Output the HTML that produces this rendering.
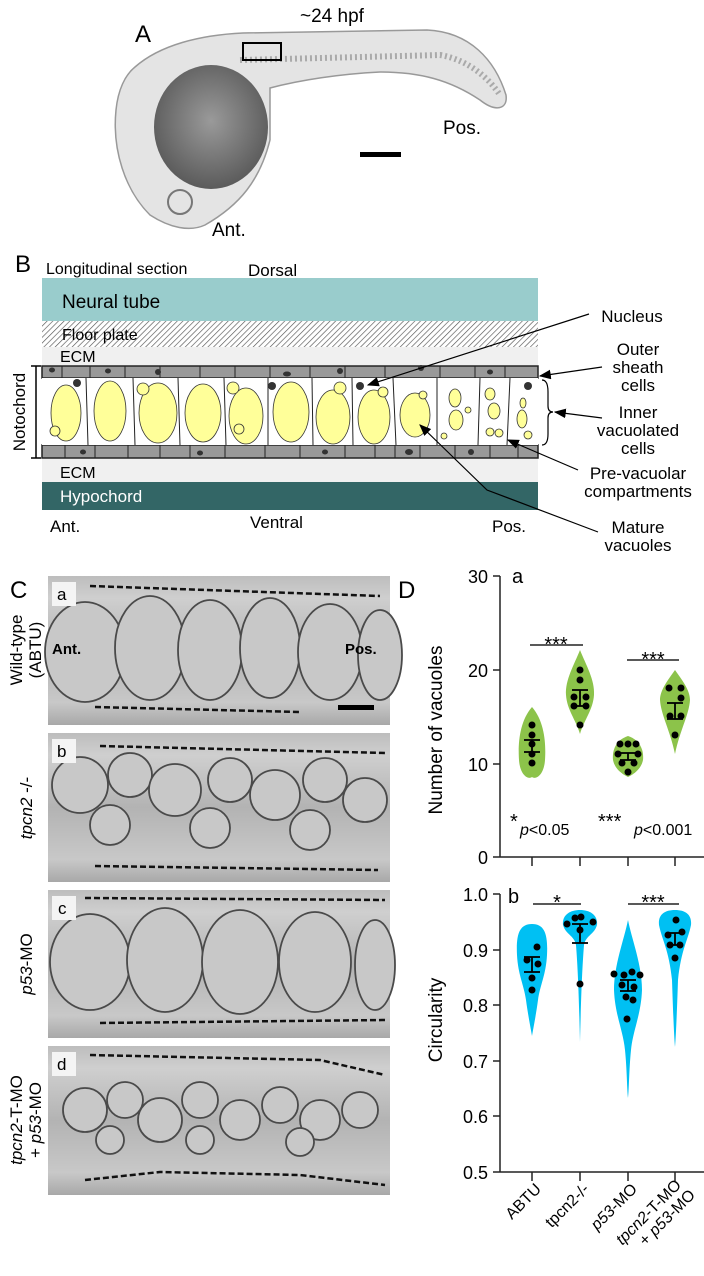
<!DOCTYPE html>
<html><head><meta charset="utf-8"><style>
html,body{margin:0;padding:0;background:#fff}
svg{display:block;font-family:"Liberation Sans",sans-serif}
</style></head><body>
<svg width="704" height="1276" viewBox="0 0 704 1276" xmlns="http://www.w3.org/2000/svg">
<defs>
<pattern id="hatch" width="4" height="4" patternUnits="userSpaceOnUse" patternTransform="rotate(45)">
<rect width="4" height="4" fill="#fff"/><line x1="0" y1="0" x2="0" y2="4" stroke="#555" stroke-width="1.3"/></pattern>
<radialGradient id="yolk" cx="0.5" cy="0.45" r="0.6"><stop offset="0" stop-color="#9a9a9a"/><stop offset="1" stop-color="#555"/></radialGradient>
<linearGradient id="photo" x1="0" y1="0" x2="0" y2="1"><stop offset="0" stop-color="#bdbdbd"/><stop offset="0.15" stop-color="#cfcfcf"/><stop offset="0.5" stop-color="#b3b3b3"/><stop offset="0.85" stop-color="#c8c8c8"/><stop offset="1" stop-color="#a8a8a8"/></linearGradient>
<marker id="ar" markerWidth="10" markerHeight="8" refX="9" refY="4" orient="auto"><path d="M0,0 L10,4 L0,8 z" fill="#000"/></marker>
</defs>

<!-- Panel A -->
<text x="135" y="42" font-size="24">A</text>
<text x="300" y="22" font-size="19">~24 hpf</text>
<path d="M135,67 C160,45 200,35 243,33 L427,30 C470,32 495,60 506,95 C508,110 495,112 480,100 C450,80 420,72 380,72 C340,74 300,80 270,88 L270,140 C260,180 240,205 205,225 C190,232 170,228 150,215 C125,190 112,150 116,110 C118,90 125,75 135,67 Z" fill="#e4e4e4" stroke="#999" stroke-width="1.5"/>
<path d="M240,60 L440,55 C470,60 490,80 500,95" fill="none" stroke="#aaa" stroke-width="6" stroke-dasharray="2,3"/>
<ellipse cx="211" cy="127" rx="57" ry="62" fill="url(#yolk)"/>
<circle cx="180" cy="202" r="12" fill="none" stroke="#777" stroke-width="2"/>
<rect x="243" y="43" width="38" height="17" fill="none" stroke="#000" stroke-width="2"/>
<rect x="360" y="152" width="41" height="5" fill="#000"/>
<text x="212" y="236" font-size="19">Ant.</text>
<text x="443" y="134" font-size="19">Pos.</text>

<!-- Panel B -->
<text x="15" y="272" font-size="24">B</text>
<text x="46" y="274" font-size="16">Longitudinal section</text>
<text x="248" y="276" font-size="17">Dorsal</text>
<rect x="42" y="278" width="496" height="43" fill="#99cccc"/>
<text x="62" y="308" font-size="19">Neural tube</text>
<rect x="42" y="321" width="496" height="26" fill="url(#hatch)"/>
<text x="62" y="340" font-size="16">Floor plate</text>
<rect x="42" y="347" width="496" height="18" fill="#f0f0f0"/>
<text x="60" y="362" font-size="16">ECM</text>
<rect x="42" y="458" width="496" height="24" fill="#f0f0f0"/>
<text x="60" y="478" font-size="16">ECM</text>
<rect x="42" y="482" width="496" height="28" fill="#336666"/>
<text x="60" y="502" font-size="17" fill="#fff">Hypochord</text>
<text x="50" y="532" font-size="17">Ant.</text>
<text x="250" y="528" font-size="17">Ventral</text>
<text x="492" y="532" font-size="17">Pos.</text>
<rect x="42" y="366" width="496" height="12" fill="#999" stroke="#222" stroke-width="1.5"/>
<rect x="42" y="445" width="496" height="13" fill="#999" stroke="#222" stroke-width="1.5"/>
<rect x="42" y="378" width="496" height="67" fill="#fff"/>
<g stroke="#222" stroke-width="1">
<line x1="62" y1="366" x2="62" y2="378"/><line x1="90" y1="366" x2="90" y2="378"/><line x1="125" y1="366" x2="125" y2="378"/><line x1="160" y1="366" x2="160" y2="378"/><line x1="200" y1="366" x2="200" y2="378"/><line x1="235" y1="366" x2="235" y2="378"/><line x1="270" y1="366" x2="270" y2="378"/><line x1="310" y1="366" x2="310" y2="378"/><line x1="345" y1="366" x2="345" y2="378"/><line x1="385" y1="366" x2="385" y2="378"/><line x1="440" y1="366" x2="440" y2="378"/><line x1="475" y1="366" x2="475" y2="378"/><line x1="505" y1="366" x2="505" y2="378"/>
<line x1="65" y1="445" x2="65" y2="458"/><line x1="95" y1="445" x2="95" y2="458"/><line x1="128" y1="445" x2="128" y2="458"/><line x1="160" y1="445" x2="160" y2="458"/><line x1="190" y1="445" x2="190" y2="458"/><line x1="225" y1="445" x2="225" y2="458"/><line x1="265" y1="445" x2="265" y2="458"/><line x1="300" y1="445" x2="300" y2="458"/><line x1="345" y1="445" x2="345" y2="458"/><line x1="375" y1="445" x2="375" y2="458"/><line x1="395" y1="445" x2="395" y2="458"/><line x1="420" y1="445" x2="420" y2="458"/><line x1="455" y1="445" x2="455" y2="458"/><line x1="490" y1="445" x2="490" y2="458"/><line x1="518" y1="445" x2="518" y2="458"/>
<line x1="86" y1="378" x2="88" y2="445"/><line x1="133" y1="378" x2="135" y2="445"/><line x1="178" y1="378" x2="180" y2="445"/><line x1="224" y1="378" x2="226" y2="445"/><line x1="268" y1="378" x2="268" y2="445"/><line x1="312" y1="378" x2="313" y2="445"/><line x1="352" y1="378" x2="353" y2="445"/><line x1="393" y1="378" x2="396" y2="445"/><line x1="437" y1="378" x2="437" y2="445"/><line x1="480" y1="378" x2="478" y2="445"/><line x1="510" y1="378" x2="507" y2="445"/>
</g>
<g fill="#333">
<ellipse cx="52" cy="370" rx="3" ry="2.5"/><ellipse cx="108" cy="371" rx="3" ry="2.5"/><ellipse cx="158" cy="372" rx="3" ry="3"/><ellipse cx="287" cy="374" rx="4" ry="2.5"/><ellipse cx="340" cy="371" rx="3" ry="3"/><ellipse cx="421" cy="368" rx="3" ry="3"/><ellipse cx="490" cy="372" rx="3" ry="2.5"/>
<ellipse cx="83" cy="452" rx="3" ry="2.5"/><ellipse cx="200" cy="453" rx="3" ry="2.5"/><ellipse cx="325" cy="452" rx="3" ry="2.5"/><ellipse cx="409" cy="452" rx="4" ry="3"/><ellipse cx="471" cy="452" rx="3" ry="3"/>
<ellipse cx="77" cy="383" rx="4" ry="4"/><ellipse cx="272" cy="386" rx="4" ry="4"/><ellipse cx="360" cy="386" rx="4" ry="4"/><ellipse cx="528" cy="386" rx="4" ry="4"/>
</g>
<g fill="#ffff99" stroke="#333" stroke-width="0.8">
<ellipse cx="66" cy="413" rx="15" ry="28"/><circle cx="55" cy="431" r="5"/>
<ellipse cx="110" cy="411" rx="16" ry="30"/>
<ellipse cx="158" cy="413" rx="19" ry="30"/><circle cx="143" cy="389" r="6"/>
<ellipse cx="203" cy="413" rx="18" ry="29"/>
<ellipse cx="246" cy="416" rx="17" ry="28"/><circle cx="233" cy="388" r="6"/><circle cx="239" cy="429" r="5"/>
<ellipse cx="291" cy="412" rx="18" ry="30"/>
<ellipse cx="333" cy="417" rx="17" ry="27"/><circle cx="340" cy="388" r="6"/>
<ellipse cx="374" cy="417" rx="16" ry="27"/><circle cx="383" cy="392" r="5"/>
<ellipse cx="415" cy="415" rx="15" ry="22"/><circle cx="423" cy="395" r="4"/>
<ellipse cx="455" cy="398" rx="6" ry="9"/><ellipse cx="456" cy="420" rx="7" ry="10"/><circle cx="468" cy="410" r="3"/><circle cx="444" cy="436" r="3"/>
<ellipse cx="490" cy="394" rx="5" ry="6"/><ellipse cx="494" cy="411" rx="6" ry="8"/><circle cx="490" cy="432" r="4"/><circle cx="499" cy="433" r="4"/>
<ellipse cx="523" cy="403" rx="3" ry="5"/><ellipse cx="522" cy="419" rx="5" ry="9"/><circle cx="528" cy="435" r="4"/>
</g>
<line x1="36" y1="366" x2="36" y2="458" stroke="#000" stroke-width="1.5"/>
<line x1="31" y1="366" x2="41" y2="366" stroke="#000" stroke-width="1.5"/>
<line x1="31" y1="458" x2="41" y2="458" stroke="#000" stroke-width="1.5"/>
<text transform="translate(25,412) rotate(-90)" font-size="17" text-anchor="middle">Notochord</text>
<g font-size="17" text-anchor="middle">
<text x="632" y="322">Nucleus</text>
<text x="638" y="355">Outer</text><text x="638" y="373">sheath</text><text x="638" y="391">cells</text>
<text x="638" y="418">Inner</text><text x="638" y="436">vacuolated</text><text x="638" y="454">cells</text>
<text x="638" y="479">Pre-vacuolar</text><text x="638" y="497">compartments</text>
<text x="638" y="533">Mature</text><text x="638" y="551">vacuoles</text>
</g>
<g stroke="#000" stroke-width="1.2" fill="none">
<line x1="589" y1="314" x2="368" y2="385" marker-end="url(#ar)"/>
<line x1="602" y1="367" x2="540" y2="376" marker-end="url(#ar)"/>
<path d="M542,380 Q548,380 548,392 L548,406 Q548,412 553,412 Q548,412 548,418 L548,434 Q548,445 542,445"/>
<line x1="602" y1="418" x2="555" y2="412" marker-end="url(#ar)"/>
<line x1="578" y1="470" x2="508" y2="440" marker-end="url(#ar)"/>
<polyline points="598,532 487,490 420,425" marker-end="url(#ar)"/>
</g>

<!-- Panel C -->
<text x="10" y="598" font-size="24">C</text>
<g>
<rect x="48" y="576" width="342" height="149" fill="url(#photo)"/>
<rect x="48" y="733" width="342" height="149" fill="url(#photo)"/>
<rect x="48" y="890" width="342" height="148" fill="url(#photo)"/>
<rect x="48" y="1046" width="342" height="149" fill="url(#photo)"/>
</g>
<g fill="#c8c8c8" stroke="#4a4a4a" stroke-width="1.8">
<ellipse cx="85" cy="652" rx="40" ry="50"/><ellipse cx="150" cy="648" rx="35" ry="52"/><ellipse cx="210" cy="650" rx="32" ry="50"/><ellipse cx="270" cy="648" rx="30" ry="50"/><ellipse cx="330" cy="652" rx="32" ry="48"/><ellipse cx="380" cy="655" rx="22" ry="45"/>
<circle cx="80" cy="785" r="28"/><circle cx="130" cy="775" r="22"/><circle cx="175" cy="790" r="26"/><circle cx="230" cy="780" r="22"/><circle cx="275" cy="795" r="25"/><circle cx="325" cy="780" r="22"/><circle cx="365" cy="800" r="22"/><circle cx="110" cy="825" r="20"/><circle cx="210" cy="828" r="20"/><circle cx="310" cy="830" r="20"/>
<ellipse cx="90" cy="962" rx="40" ry="48"/><ellipse cx="165" cy="960" rx="38" ry="52"/><ellipse cx="240" cy="962" rx="38" ry="52"/><ellipse cx="315" cy="962" rx="36" ry="50"/><ellipse cx="375" cy="965" rx="20" ry="45"/>
<circle cx="85" cy="1110" r="22"/><circle cx="125" cy="1100" r="18"/><circle cx="160" cy="1120" r="22"/><circle cx="200" cy="1100" r="18"/><circle cx="240" cy="1120" r="20"/><circle cx="280" cy="1105" r="18"/><circle cx="320" cy="1120" r="20"/><circle cx="360" cy="1110" r="18"/><circle cx="110" cy="1140" r="14"/><circle cx="200" cy="1140" r="14"/><circle cx="300" cy="1142" r="14"/>
</g>
<g stroke="#111" stroke-width="2.5" stroke-dasharray="6,3" fill="none">
<line x1="90" y1="586" x2="380" y2="596"/><line x1="95" y1="707" x2="300" y2="712"/>
<line x1="100" y1="746" x2="385" y2="753"/><line x1="95" y1="866" x2="378" y2="870"/>
<line x1="85" y1="898" x2="385" y2="900"/><line x1="100" y1="1023" x2="385" y2="1020"/>
<path d="M90,1055 L320,1060 L385,1075"/><path d="M85,1180 L160,1172 L300,1175 L385,1185"/>
</g>
<rect x="338" y="705" width="36" height="5" fill="#000"/>
<g font-size="17">
<rect x="52" y="582" width="24" height="24" fill="#f4f4f4"/><text x="57" y="600">a</text>
<rect x="52" y="739" width="24" height="24" fill="#f4f4f4"/><text x="57" y="757">b</text>
<rect x="52" y="896" width="24" height="24" fill="#f4f4f4"/><text x="58" y="914">c</text>
<rect x="52" y="1052" width="24" height="24" fill="#f4f4f4"/><text x="57" y="1070">d</text>
</g>
<text x="52" y="654" font-size="15" font-weight="bold">Ant.</text>
<text x="345" y="654" font-size="15" font-weight="bold">Pos.</text>
<g font-size="17" text-anchor="middle">
<text transform="translate(22,650) rotate(-90)">Wild-type</text>
<text transform="translate(41,650) rotate(-90)">(ABTU)</text>
<text transform="translate(32,808) rotate(-90)"><tspan font-style="italic">tpcn2</tspan> -/-</text>
<text transform="translate(32,964) rotate(-90)"><tspan font-style="italic">p53</tspan>-MO</text>
<text transform="translate(22,1120) rotate(-90)"><tspan font-style="italic">tpcn2</tspan>-T-MO</text>
<text transform="translate(41,1120) rotate(-90)">+ <tspan font-style="italic">p53</tspan>-MO</text>
</g>

<!-- Panel D -->
<text x="398" y="598" font-size="24">D</text>
<g stroke="#222" stroke-width="1.5" fill="none">
<line x1="500" y1="576" x2="500" y2="857"/><line x1="500" y1="857" x2="704" y2="857"/>
<line x1="493" y1="576" x2="500" y2="576"/><line x1="493" y1="670" x2="500" y2="670"/><line x1="493" y1="764" x2="500" y2="764"/><line x1="493" y1="857" x2="500" y2="857"/>
<line x1="532" y1="857" x2="532" y2="866"/><line x1="580" y1="857" x2="580" y2="866"/><line x1="628" y1="857" x2="628" y2="866"/><line x1="675" y1="857" x2="675" y2="866"/>
<line x1="500" y1="894" x2="500" y2="1172"/><line x1="500" y1="1172" x2="704" y2="1172"/>
<line x1="493" y1="894" x2="500" y2="894"/><line x1="493" y1="950" x2="500" y2="950"/><line x1="493" y1="1005" x2="500" y2="1005"/><line x1="493" y1="1061" x2="500" y2="1061"/><line x1="493" y1="1116" x2="500" y2="1116"/><line x1="493" y1="1172" x2="500" y2="1172"/>
<line x1="532" y1="1172" x2="532" y2="1181"/><line x1="580" y1="1172" x2="580" y2="1181"/><line x1="628" y1="1172" x2="628" y2="1181"/><line x1="675" y1="1172" x2="675" y2="1181"/>
<line x1="530" y1="645" x2="583" y2="645"/><line x1="627" y1="660" x2="679" y2="660"/>
<line x1="533" y1="904" x2="581" y2="904"/><line x1="628" y1="904" x2="679" y2="904"/>
</g>
<g font-size="18" text-anchor="end">
<text x="488" y="583">30</text><text x="488" y="677">20</text><text x="488" y="771">10</text><text x="488" y="864">0</text>
<text x="488" y="901">1.0</text><text x="488" y="957">0.9</text><text x="488" y="1012">0.8</text><text x="488" y="1068">0.7</text><text x="488" y="1123">0.6</text><text x="488" y="1179">0.5</text>
</g>
<text x="512" y="583" font-size="20">a</text>
<text x="508" y="903" font-size="20">b</text>
<g font-size="19" text-anchor="middle">
<text transform="translate(442,730) rotate(-90)">Number of vacuoles</text>
<text transform="translate(442,1020) rotate(-90)">Circularity</text>
</g>
<g font-size="20" text-anchor="middle"><text x="556" y="651">***</text><text x="653" y="666">***</text><text x="557" y="909">*</text><text x="653" y="909">***</text></g>
<text x="510" y="828" font-size="20">*</text><text x="520" y="835" font-size="16"><tspan font-style="italic">p</tspan>&lt;0.05</text>
<text x="598" y="828" font-size="20">***</text><text x="634" y="835" font-size="16"><tspan font-style="italic">p</tspan>&lt;0.001</text>
<g fill="#8cc34a">
<path d="M532,707 C545,722 546,745 545,760 C544,775 536,780 532,777 C528,780 520,775 519,760 C518,745 519,722 532,707 Z"/>
<path d="M580,650 C586,665 595,680 594,695 C593,710 584,720 580,734 C576,720 567,710 566,695 C565,680 574,665 580,650 Z"/>
<path d="M628,736 C640,740 644,750 643,760 C641,770 632,775 628,777 C624,775 615,770 613,760 C612,750 616,740 628,736 Z"/>
<path d="M675,670 C682,680 690,690 690,700 C689,715 680,730 675,754 C670,730 661,715 660,700 C660,690 668,680 675,670 Z"/>
</g>
<g fill="#00c0f3">
<path d="M532,924 C545,924 548,935 547,955 C546,975 540,985 538,1000 C536,1015 533,1030 532,1036 C531,1030 528,1015 526,1000 C524,985 518,975 517,955 C516,935 519,924 532,924 Z"/>
<path d="M580,910 C590,910 598,915 597,925 C594,935 586,935 584,945 C582,970 581,1000 580,1042 C579,1000 578,970 576,945 C574,935 566,935 563,925 C562,915 570,910 580,910 Z"/>
<path d="M628,920 C632,940 642,965 642,990 C641,1015 633,1030 631,1050 C629,1070 629,1090 628,1098 C627,1090 627,1070 625,1050 C623,1030 615,1015 614,990 C614,965 624,940 628,920 Z"/>
<path d="M675,910 C686,910 692,915 691,925 C688,940 681,950 678,980 C677,1010 676,1035 675,1047 C674,1035 673,1010 672,980 C669,950 662,940 659,925 C658,915 664,910 675,910 Z"/>
</g>
<g fill="#000">
<circle cx="532" cy="725" r="3.5"/><circle cx="532" cy="735" r="3.5"/><circle cx="532" cy="744" r="3.5"/><circle cx="532" cy="754" r="3.5"/><circle cx="532" cy="763" r="3.5"/>
<circle cx="580" cy="670" r="3.5"/><circle cx="580" cy="680" r="3.5"/><circle cx="574" cy="697" r="3.5"/><circle cx="586" cy="697" r="3.5"/><circle cx="574" cy="706" r="3.5"/><circle cx="586" cy="706" r="3.5"/><circle cx="580" cy="725" r="3.5"/>
<circle cx="620" cy="744" r="3.5"/><circle cx="628" cy="744" r="3.5"/><circle cx="636" cy="744" r="3.5"/><circle cx="618" cy="754" r="3.5"/><circle cx="638" cy="754" r="3.5"/><circle cx="622" cy="763" r="3.5"/><circle cx="634" cy="763" r="3.5"/><circle cx="628" cy="772" r="3.5"/>
<circle cx="669" cy="688" r="3.5"/><circle cx="681" cy="688" r="3.5"/><circle cx="681" cy="698" r="3.5"/><circle cx="670" cy="716" r="3.5"/><circle cx="681" cy="716" r="3.5"/><circle cx="675" cy="735" r="3.5"/>
<circle cx="537" cy="947" r="3.5"/><circle cx="527" cy="960" r="3.5"/><circle cx="538" cy="964" r="3.5"/><circle cx="532" cy="978" r="3.5"/><circle cx="532" cy="990" r="3.5"/>
<circle cx="567" cy="924" r="3.5"/><circle cx="575" cy="918" r="3.5"/><circle cx="581" cy="917" r="3.5"/><circle cx="593" cy="922" r="3.5"/><circle cx="580" cy="930" r="3.5"/><circle cx="580" cy="984" r="3.5"/>
<circle cx="614" cy="974" r="3.5"/><circle cx="624" cy="975" r="3.5"/><circle cx="632" cy="972" r="3.5"/><circle cx="640" cy="975" r="3.5"/><circle cx="622" cy="985" r="3.5"/><circle cx="634" cy="987" r="3.5"/><circle cx="626" cy="997" r="3.5"/><circle cx="633" cy="1000" r="3.5"/><circle cx="627" cy="1019" r="3.5"/>
<circle cx="676" cy="920" r="3.5"/><circle cx="668" cy="935" r="3.5"/><circle cx="682" cy="932" r="3.5"/><circle cx="670" cy="945" r="3.5"/><circle cx="680" cy="945" r="3.5"/><circle cx="675" cy="958" r="3.5"/>
</g>
<g stroke="#000" stroke-width="1.8">
<line x1="532" y1="740" x2="532" y2="752"/><line x1="524" y1="740" x2="540" y2="740"/><line x1="524" y1="752" x2="540" y2="752"/>
<line x1="580" y1="690" x2="580" y2="706"/><line x1="572" y1="690" x2="588" y2="690"/><line x1="572" y1="706" x2="588" y2="706"/>
<line x1="628" y1="753" x2="628" y2="760"/><line x1="620" y1="753" x2="636" y2="753"/><line x1="620" y1="760" x2="636" y2="760"/>
<line x1="675" y1="703" x2="675" y2="719"/><line x1="667" y1="703" x2="683" y2="703"/><line x1="667" y1="719" x2="683" y2="719"/>
<line x1="532" y1="957" x2="532" y2="972"/><line x1="524" y1="957" x2="540" y2="957"/><line x1="524" y1="972" x2="540" y2="972"/>
<line x1="580" y1="924" x2="580" y2="943"/><line x1="572" y1="924" x2="588" y2="924"/><line x1="572" y1="943" x2="588" y2="943"/>
<line x1="628" y1="980" x2="628" y2="991"/><line x1="620" y1="980" x2="636" y2="980"/><line x1="620" y1="991" x2="636" y2="991"/>
<line x1="675" y1="933" x2="675" y2="945"/><line x1="667" y1="933" x2="683" y2="933"/><line x1="667" y1="945" x2="683" y2="945"/>
</g>
<g font-size="16" text-anchor="end">
<text transform="translate(542,1190) rotate(-45)">ABTU</text>
<text transform="translate(590,1190) rotate(-45)">tpcn2-/-</text>
<text transform="translate(638,1190) rotate(-45)"><tspan font-style="italic">p53</tspan>-MO</text>
<text transform="translate(682,1186) rotate(-45)"><tspan font-style="italic">tpcn2</tspan>-T-MO</text>
<text transform="translate(696,1196) rotate(-45)">+ <tspan font-style="italic">p53</tspan>-MO</text>
</g>
</svg>
</body></html>
